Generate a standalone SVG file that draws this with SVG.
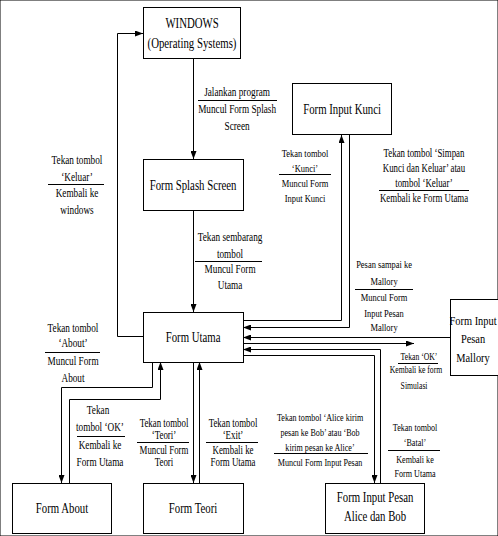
<svg xmlns="http://www.w3.org/2000/svg" width="498" height="536" viewBox="0 0 498 536">
<defs>
<marker id="ah" viewBox="0 0 8 6" refX="8" refY="3" markerWidth="8" markerHeight="6" orient="auto" markerUnits="userSpaceOnUse"><path d="M0,0 L8,3 L0,6 z" fill="#000"/></marker>
<style>
rect{fill:#fff;stroke:#000;stroke-width:1}
text{font-family:"Liberation Serif","Times New Roman",serif;text-anchor:middle;fill:#000;transform:scaleX(.77);transform-box:fill-box;transform-origin:center}
.b{font-size:14px}
.bm{font-size:13.5px}
.s12{font-size:12px}
.s115{font-size:11.5px}
.s11{font-size:11px}
.s105{font-size:10.5px}
.s10{font-size:10px}
.c path{fill:none;stroke:#000;stroke-width:1;marker-end:url(#ah)}
.sep{stroke:#000;stroke-width:1}
</style>
</defs>
<rect width="498" height="536" fill="#fff" stroke="none"/>
<g id="connectors" class="c">
<path d="M143,336.5 H117.5 V33.5 H143"/>
<path d="M193.5,58 V159"/>
<path d="M193.5,210 V312"/>
<path d="M243,320.5 H341.5 V135"/>
<path d="M349.5,135 V327.5 H243"/>
<path d="M450,337.5 H243"/>
<path d="M243,343.5 H414"/>
<path d="M380.5,483 V349.5 H243"/>
<path d="M243,355.5 H374.5 V483"/>
<path d="M152.5,362 V387.5 H61.5 V483"/>
<path d="M69.5,483 V399.5 H160.5 V362"/>
<path d="M193.5,362 V483"/>
<path d="M199.5,483 V362"/>
</g>
<g id="labels">
<g id="lbl-jalankan" class="s12">
<text x="237" y="96">Jalankan program</text>
<line class="sep" x1="198" y1="100.5" x2="277" y2="100.5"/>
<text x="237" y="113">Muncul Form Splash</text>
<text x="237" y="130">Screen</text>
</g>
<g id="lbl-keluar" class="s12">
<text x="77" y="164">Tekan tombol</text>
<text x="77" y="181">‘Keluar’</text>
<line class="sep" x1="48" y1="184.5" x2="104" y2="184.5"/>
<text x="77" y="197">Kembali ke</text>
<text x="77" y="214">windows</text>
</g>
<g id="lbl-kunci" class="s11">
<text x="305" y="157">Tekan tombol</text>
<text x="305" y="172">‘Kunci’</text>
<line class="sep" x1="279" y1="174.5" x2="331" y2="174.5"/>
<text x="305" y="187">Muncul Form</text>
<text x="305" y="202">Input Kunci</text>
</g>
<g id="lbl-simpan" class="s115">
<text x="424" y="157">Tekan tombol ‘Simpan</text>
<text x="424" y="172">Kunci dan Keluar’ atau</text>
<text x="424" y="187">tombol ‘Keluar’</text>
<line class="sep" x1="379" y1="190.5" x2="469" y2="190.5"/>
<text x="424" y="202">Kembali ke Form Utama</text>
</g>
<g id="lbl-sembarang" class="s12">
<text x="230" y="241">Tekan sembarang</text>
<text x="230" y="258">tombol</text>
<line class="sep" x1="195" y1="261.5" x2="262" y2="261.5"/>
<text x="230" y="273">Muncul Form</text>
<text x="230" y="289">Utama</text>
</g>
<g id="lbl-mallory" class="s11">
<text x="384" y="268">Pesan sampai ke</text>
<text x="384" y="285">Mallory</text>
<line class="sep" x1="355" y1="289.5" x2="413" y2="289.5"/>
<text x="384" y="301">Muncul Form</text>
<text x="384" y="317">Input Pesan</text>
<text x="384" y="331">Mallory</text>
</g>
<g id="lbl-ok-sim" class="s10">
<text x="419" y="360">Tekan ‘OK’</text>
<line class="sep" x1="398" y1="363.5" x2="438" y2="363.5"/>
<text x="416" y="373">Kembali ke form</text>
<text x="414" y="389">Simulasi</text>
</g>
<g id="lbl-about" class="s12">
<text x="73" y="332">Tekan tombol</text>
<text x="73" y="347">‘About’</text>
<line class="sep" x1="45" y1="352.5" x2="100" y2="352.5"/>
<text x="73" y="365">Muncul Form</text>
<text x="73" y="382">About</text>
</g>
<g id="lbl-ok-about" class="s12">
<text x="98" y="414">Tekan</text>
<text x="100" y="431">tombol ‘OK’</text>
<line class="sep" x1="77" y1="436.5" x2="125" y2="436.5"/>
<text x="100" y="449">Kembali ke</text>
<text x="100" y="466">Form Utama</text>
</g>
<g id="lbl-teori" class="s115">
<text x="164" y="427">Tekan tombol</text>
<text x="164" y="439">‘Teori’</text>
<line class="sep" x1="137" y1="442.5" x2="189" y2="442.5"/>
<text x="164" y="454">Muncul Form</text>
<text x="164" y="466">Teori</text>
</g>
<g id="lbl-exit" class="s115">
<text x="233" y="427">Tekan tombol</text>
<text x="233" y="439">‘Exit’</text>
<line class="sep" x1="206" y1="442.5" x2="258" y2="442.5"/>
<text x="233" y="454">Kembali ke</text>
<text x="233" y="466">Form Utama</text>
</g>
<g id="lbl-alice" class="s105">
<text x="320" y="421">Tekan tombol ‘Alice kirim</text>
<text x="320" y="436">pesan ke Bob’ atau ‘Bob</text>
<text x="320" y="451">kirim pesan ke Alice’</text>
<line class="sep" x1="274" y1="453.5" x2="368" y2="453.5"/>
<text x="320" y="466">Muncul Form Input Pesan</text>
</g>
<g id="lbl-batal" class="s105">
<text x="415" y="431">Tekan tombol</text>
<text x="415" y="446">‘Batal’</text>
<line class="sep" x1="388" y1="450.5" x2="440" y2="450.5"/>
<text x="415" y="463">Kembali ke</text>
<text x="415" y="477">Form Utama</text>
</g>
</g>
<g id="windows"><rect x="143.5" y="7.5" width="97" height="51"/><text class="b" x="192" y="28">WINDOWS</text><text class="b" x="192" y="48">(Operating Systems)</text></g>
<g id="splash"><rect x="143.5" y="159.5" width="100" height="51"/><text class="b" x="193" y="190">Form Splash Screen</text></g>
<g id="kunci"><rect x="292.5" y="83.5" width="99" height="51"/><text class="b" x="342" y="114">Form Input Kunci</text></g>
<g id="utama"><rect x="143.5" y="312.5" width="100" height="50"/><text class="b" x="193" y="342">Form Utama</text></g>
<g id="mallory"><rect x="450.5" y="299.5" width="60" height="76"/><text class="bm" x="473" y="325">Form Input</text><text class="bm" x="473" y="343.5">Pesan</text><text class="bm" x="473" y="362">Mallory</text></g>
<g id="about"><rect x="12.5" y="483.5" width="99" height="50"/><text class="b" x="62" y="513">Form About</text></g>
<g id="teori"><rect x="143.5" y="483.5" width="100" height="50"/><text class="b" x="193" y="513">Form Teori</text></g>
<g id="alice"><rect x="325.5" y="483.5" width="99" height="50"/><text class="b" x="375" y="502">Form Input Pesan</text><text class="b" x="375" y="521">Alice dan Bob</text></g>
</svg>
